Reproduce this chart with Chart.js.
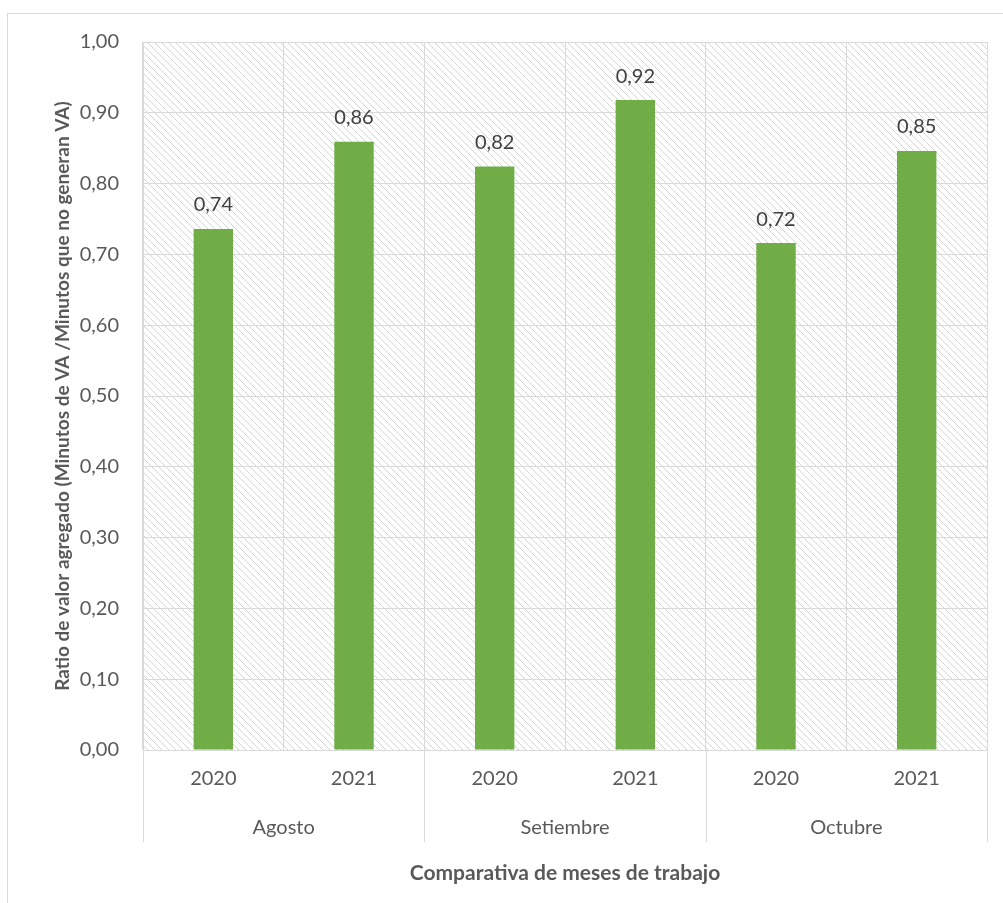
<!DOCTYPE html>
<html>
<head>
<meta charset="utf-8">
<script src="https://cdn.jsdelivr.net/npm/chart.js@4.4.0/dist/chart.umd.min.js"></script>
<style>
html,body{margin:0;padding:0;background:#fff;}
#wrap{width:1003px;height:903px;position:relative;}
</style>
</head>
<body>
<div id="wrap"><canvas id="c" width="1003" height="903"></canvas></div>
<script>
const years = ['2020','2021','2020','2021','2020','2021'];
const months = ['Agosto','Setiembre','Octubre'];
const ratioValues = [0.736, 0.859, 0.824, 0.918, 0.716, 0.846];
const yTicks = [0,0.1,0.2,0.3,0.4,0.5,0.6,0.7,0.8,0.9,1.0];
const xTitle = 'Comparativa de meses de trabajo';
const yTitle = 'Ratio de valor agregado (Minutos de VA /Minutos que no generan VA)';

const FONT = 'Lato, "Open Sans", sans-serif';
const GRID = '#d9d9d9';
const TXT = '#595959';

function makePattern(ctx){
  const t = document.createElement('canvas');
  t.width = 7; t.height = 7;
  const g = t.getContext('2d');
  g.fillStyle = '#ffffff'; g.fillRect(0,0,7,7);
  g.strokeStyle = '#d4d4d4'; g.lineWidth = 1;
  g.beginPath(); g.moveTo(-1,-1); g.lineTo(8,8); g.stroke();
  g.beginPath(); g.moveTo(-1,6); g.lineTo(1,8); g.stroke();
  g.beginPath(); g.moveTo(6,-1); g.lineTo(8,1); g.stroke();
  return ctx.createPattern(t,'repeat');
}

const decor = {
  id:'decor',
  beforeDraw(chart){
    const ctx = chart.ctx, a = chart.chartArea;
    ctx.save();
    ctx.strokeStyle = GRID; ctx.lineWidth = 1;
    ctx.strokeRect(7.5, 13.5, 1010, 910);
    ctx.fillStyle = makePattern(ctx);
    ctx.fillRect(a.left, a.top, a.right-a.left, a.bottom-a.top);
    ctx.restore();
  },
  afterDraw(chart){
    const ctx = chart.ctx, a = chart.chartArea;
    const step = (a.right - a.left) / years.length;
    ctx.save();
    ctx.strokeStyle = GRID; ctx.lineWidth = 1;
    [0,2,4,6].forEach(i=>{
      const x = Math.round(a.left + step*i) + 0.5;
      ctx.beginPath(); ctx.moveTo(x, a.bottom); ctx.lineTo(x, 842); ctx.stroke();
    });
    ctx.fillStyle = '#404040';
    ctx.font = '20px ' + FONT;
    ctx.textAlign = 'center'; ctx.textBaseline = 'middle';
    chart.getDatasetMeta(0).data.forEach((bar,i)=>{
      ctx.fillText(ratioValues[i].toFixed(2).replace('.',','), bar.x, bar.y - 24);
    });
    ctx.restore();
  }
};

new Chart(document.getElementById('c'), {
  type:'bar',
  data:{
    labels: years,
    datasets:[{ data: ratioValues, backgroundColor:'#70AD47', borderWidth:0, barPercentage:0.28, categoryPercentage:1.0 }]
  },
  options:{
    responsive:false, animation:false, maintainAspectRatio:false,
    layout:{ padding:{ top:42, right:16, left:0, bottom:0 } },
    plugins:{ legend:{display:false}, tooltip:{enabled:false} },
    scales:{
      y:{
        min:0, max:1,
        afterBuildTicks(s){ s.ticks = yTicks.map(v=>({value:v})); },
        afterFit(s){ s.width = 143; },
        ticks:{ padding:24, color:TXT, font:{family:FONT, size:20},
          callback:(v)=>Number(v).toFixed(2).replace('.',',') },
        grid:{ color:GRID, drawTicks:false, lineWidth:1 },
        border:{ display:true, color:GRID },
        title:{ display:true, text:yTitle, color:TXT, font:{family:FONT, size:19, weight:'bold'}, padding:{top:51, bottom:0} }
      },
      x:{
        afterFit(s){ s.height = 50; },
        ticks:{ padding:17, color:TXT, font:{family:FONT, size:20} },
        grid:{ offset:true, color:GRID, drawTicks:false },
        border:{ display:true, color:GRID }
      },
      x2:{
        type:'category', labels: months, position:'bottom', offset:true,
        afterFit(s){ s.height = 103; },
        ticks:{ padding:16, color:TXT, font:{family:FONT, size:20} },
        grid:{ display:false, drawTicks:false },
        border:{ display:false },
        title:{ display:true, text:xTitle, color:TXT, font:{family:FONT, size:21, weight:'bold'}, padding:{top:0, bottom:17} }
      }
    }
  },
  plugins:[decor]
});
</script>
</body>
</html>
